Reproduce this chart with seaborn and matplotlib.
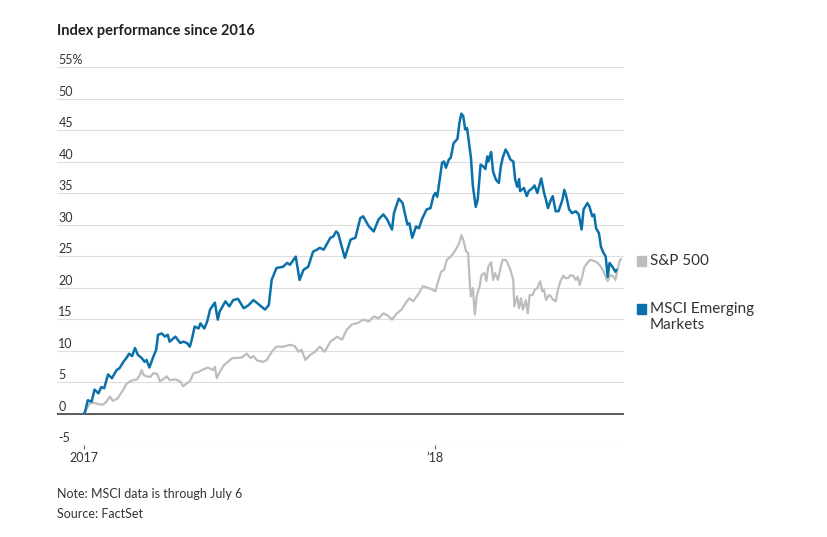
import pandas as pd
import matplotlib.pyplot as plt
import matplotlib.dates as mdates
from matplotlib.patches import Rectangle
import seaborn as sns

# days since Jan 1 2017, and % change since end of 2016
msci_days = [0, 1, 4, 8, 11, 15, 18, 21, 25, 29, 34, 37, 41, 44, 47, 50, 53, 56, 60, 63,
             65, 68, 72, 75, 77, 81, 84, 87, 89, 95, 100, 103, 107, 110, 112, 115, 119, 121,
             125, 128, 131, 136, 139, 141, 147, 151, 155, 160, 166, 171, 176, 181, 188, 192,
             195, 200, 207, 211, 214, 220, 224, 228, 233, 238, 242, 245, 249, 256, 259, 262,
             264, 271, 277, 282, 287, 290, 296, 301, 306, 311, 315, 320, 322, 327, 331, 336,
             338, 341, 345, 348, 351, 356, 360, 363, 365, 367, 370, 372, 374, 376, 379, 381,
             384, 388, 390, 392, 394, 396, 398, 400, 402, 404, 407, 409, 412, 415, 417, 419,
             420, 423, 425, 428, 431, 433, 435, 438, 440, 443, 446, 448, 450, 452, 453, 457,
             460, 462, 466, 468, 471, 475, 478, 480, 482, 485, 487, 490, 493, 497, 499, 501,
             504, 507, 511, 514, 517, 519, 523, 525, 528, 530, 532, 535, 537, 539, 542, 544,
             546, 549, 552, 553]
msci_vals = [0, 0.2, 2.1, 1.9, 3.8, 3.2, 4.2, 4.0, 6.2, 5.6, 6.9, 7.2, 8.2, 8.8, 9.5, 9.1,
             10.4, 9.3, 8.8, 8.2, 8.5, 7.3, 9.0, 10.1, 12.5, 12.7, 12.2, 12.5, 11.4, 12.2,
             11.2, 11.4, 11.2, 10.6, 11.7, 13.8, 13.5, 14.3, 13.5, 14.6, 16.5, 17.6, 14.9,
             16.2, 17.8, 17.0, 18.0, 18.2, 16.7, 17.2, 18.0, 17.4, 16.5, 17.2, 21.2, 23.1,
             23.3, 23.9, 23.6, 24.9, 21.2, 22.8, 23.3, 25.7, 26.0, 26.3, 26.0, 27.9, 28.1,
             28.9, 28.6, 24.7, 27.6, 27.9, 31.0, 31.3, 29.7, 28.9, 30.8, 31.6, 30.8, 29.2,
             31.8, 34.1, 33.4, 30.0, 30.2, 27.9, 29.7, 29.4, 30.8, 32.4, 32.6, 34.5, 35.0,
             34.4, 37.6, 39.8, 40.0, 39.0, 40.3, 40.6, 42.9, 43.6, 46.1, 47.6, 47.2, 45.1,
             45.3, 43.0, 40.6, 36.1, 32.8, 33.9, 39.5, 39.2, 38.8, 40.8, 40.0, 41.5, 38.4,
             37.1, 36.6, 39.2, 40.6, 41.9, 41.4, 40.3, 40.0, 37.1, 36.0, 37.2, 35.3, 35.8,
             34.5, 35.3, 35.8, 36.2, 35.0, 37.3, 35.0, 33.9, 32.6, 33.9, 34.5, 32.1, 32.1,
             33.9, 35.5, 34.5, 32.4, 31.8, 32.1, 31.6, 29.2, 32.4, 33.4, 32.9, 31.3, 31.6,
             29.4, 28.6, 26.5, 25.7, 24.9, 21.7, 23.9, 23.3, 22.5, 22.8]

sp_days = [0, 6, 10, 15, 20, 24, 27, 30, 35, 37, 41, 44, 48, 51, 55, 58, 60, 62, 65, 69,
           72, 76, 79, 82, 86, 89, 95, 100, 103, 107, 110, 114, 119, 124, 129, 134, 136,
           138, 141, 145, 148, 154, 159, 164, 169, 173, 176, 180, 186, 190, 195, 200, 207,
           214, 219, 223, 226, 230, 235, 240, 245, 250, 256, 263, 268, 273, 278, 285, 290,
           296, 301, 306, 311, 316, 320, 325, 330, 334, 338, 342, 348, 352, 358, 360, 365,
           368, 371, 374, 377, 381, 384, 388, 390, 392, 394, 397, 399, 401, 402, 404, 406,
           408, 411, 413, 416, 418, 420, 423, 425, 427, 430, 433, 435, 438, 440, 443, 446,
           447, 450, 452, 454, 456, 459, 461, 463, 466, 468, 471, 474, 476, 478, 480, 483,
           485, 487, 490, 492, 495, 498, 500, 503, 505, 508, 511, 513, 515, 518, 520, 523,
           526, 530, 533, 537, 539, 542, 544, 547, 550, 552, 555, 557, 558]
sp_vals = [0, 1.6, 1.7, 1.5, 1.4, 2.0, 2.7, 2.0, 2.4, 2.9, 3.8, 4.7, 5.1, 5.3, 5.4, 6.1,
           6.9, 6.1, 5.9, 5.8, 6.4, 6.3, 5.1, 5.4, 5.9, 5.3, 5.4, 5.1, 4.3, 4.8, 5.1, 6.4,
           6.6, 7.0, 7.3, 6.9, 7.4, 5.6, 6.6, 7.6, 8.0, 8.8, 8.8, 8.9, 9.5, 8.8, 9.1, 8.4,
           8.2, 8.5, 9.8, 10.6, 10.6, 10.9, 10.7, 9.8, 10.1, 8.5, 9.3, 9.8, 10.6, 9.8, 11.4,
           12.2, 11.7, 13.3, 14.1, 14.4, 14.9, 14.6, 15.4, 15.1, 15.9, 15.5, 14.9, 15.9,
           16.5, 17.5, 18.3, 17.8, 19.1, 20.2, 19.9, 19.8, 19.4, 21.0, 22.5, 22.8, 24.4,
           24.9, 25.5, 26.5, 27.1, 28.3, 27.6, 25.7, 25.5, 20.2, 18.6, 19.9, 15.7, 18.6,
           20.2, 22.0, 22.3, 21.0, 23.3, 24.0, 21.2, 22.3, 21.2, 23.3, 24.4, 24.4, 23.9,
           22.8, 21.2, 17.0, 18.6, 16.7, 18.3, 16.5, 18.0, 15.9, 18.8, 18.8, 19.6, 19.9,
           21.0, 19.4, 19.6, 18.0, 18.8, 18.6, 18.1, 17.8, 19.4, 21.0, 21.9, 21.5, 21.5,
           21.9, 21.9, 21.2, 21.7, 20.4, 22.0, 23.3, 23.9, 24.4, 24.2, 24.0, 23.3, 22.8,
           21.7, 21.0, 22.0, 21.7, 21.2, 23.3, 24.4, 24.5]

series_names = ["S&P 500", "MSCI Emerging Markets"]
legend_labels = ["S&P 500", "MSCI Emerging\nMarkets"]
colors = {"S&P 500": "#bdbdbd", "MSCI Emerging Markets": "#0a70aa"}
y_ticks = [-5, 0, 5, 10, 15, 20, 25, 30, 35, 40, 45, 50, 55]
x_ticks = ["2017-01-01", "2018-01-01"]
x_tick_labels = ["2017", "\u201918"]

start = pd.Timestamp("2017-01-01")
df = pd.concat([
    pd.DataFrame({"date": start + pd.to_timedelta(sp_days, unit="D"),
                  "value": sp_vals, "index": "S&P 500"}),
    pd.DataFrame({"date": start + pd.to_timedelta(msci_days, unit="D"),
                  "value": msci_vals, "index": "MSCI Emerging Markets"}),
])

sns.set_theme(style="white")
plt.rcParams["font.family"] = ["Lato", "DejaVu Sans"]
text_color = "#222222"

fig = plt.figure(figsize=(8.27, 5.37), dpi=100)
ax = fig.add_axes([57 / 827, 1 - 445 / 537, (624 - 57) / 827, (445 - 67) / 537])

for name in series_names:
    sns.lineplot(data=df[df["index"] == name], x="date", y="value", ax=ax,
                 color=colors[name], linewidth=1.6 if name == "S&P 500" else 1.8,
                 legend=False, zorder=3)

ax.set_xlim(start - pd.Timedelta(days=28), start + pd.Timedelta(days=561))
ax.set_ylim(-5, 55)
ax.set_xlabel("")
ax.set_ylabel("")
for s in ax.spines.values():
    s.set_visible(False)

ax.set_yticks(y_ticks)
ax.set_yticklabels([])
ax.tick_params(axis="y", length=0)
ax.yaxis.grid(True, color="#dddddd", linewidth=0.8)
ax.xaxis.grid(False)
ax.axhline(0, color="#333333", linewidth=1.1, zorder=2)

for v in y_ticks:
    lab = f"{v}%" if v == 55 else str(v)
    ax.annotate(lab, xy=(0, v), xycoords=("axes fraction", "data"),
                xytext=(1, 0.5), textcoords="offset points",
                ha="left", va="bottom", fontsize=9, color="#333333")

ax.set_xticks(pd.to_datetime(x_ticks))
ax.set_xticklabels(x_tick_labels, fontsize=9, color="#333333")
ax.tick_params(axis="x", length=3, width=0.8, color="#666666", pad=2, bottom=True)

fig.text(57 / 827, 1 - 31 / 537, "Index performance since 2016", fontsize=10.5,
         fontweight="bold", color=text_color, ha="left", va="center")

# legend
leg_y = [261, 309]
for name, lab, y in zip(series_names, legend_labels, leg_y):
    fig.patches.append(Rectangle((637 / 827, 1 - (y + 5) / 537), 9 / 827, 10 / 537,
                                 transform=fig.transFigure, color=colors[name]))
    fig.text(650 / 827, 1 - (y - 7) / 537, lab, fontsize=11, color="#333333",
             ha="left", va="top", linespacing=1.15)

fig.text(57 / 827, 1 - 494 / 537, "Note: MSCI data is through July 6", fontsize=9,
         color="#333333", ha="left", va="center")
fig.text(57 / 827, 1 - 514 / 537, "Source: FactSet", fontsize=9,
         color="#333333", ha="left", va="center")

fig.savefig("out.png", dpi=100)
